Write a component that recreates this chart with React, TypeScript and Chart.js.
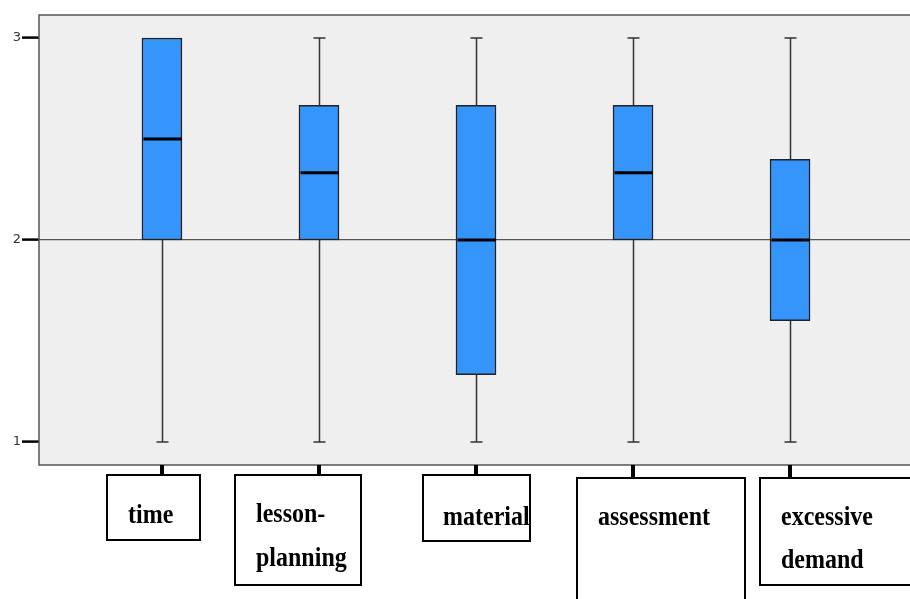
import React, { useEffect, useRef } from "react";
import { Chart, registerables } from "chart.js";

Chart.register(...registerables);

// ---- data ----
const categories: string[][] = [["time"], ["lesson-", "planning"], ["material"], ["assessment"], ["excessive", "demand"]];
const minValues = [1, 1, 1, 1, 1];
const q1Values = [2, 2, 1.333, 2, 1.6];
const medianValues = [2.5, 2.333, 2, 2.333, 2];
const q3Values = [3, 2.667, 2.667, 2.667, 2.4];
const maxValues = [3, 3, 3, 3, 3];
const yTickValues = [1, 2, 3];

// ---- label box layout (relative to category tick) ----
const labelBoxes = [
  { left: -55, width: 93, top: 475, height: 65, textX: -34, baselines: [523] },
  { left: -84, width: 126, top: 475, height: 110, textX: -63, baselines: [522, 566] },
  { left: -53, width: 107, top: 475, height: 66, textX: -33, baselines: [525] },
  { left: -56, width: 168, top: 478, height: 130, textX: -35, baselines: [525] },
  { left: -30, width: 160, top: 478, height: 107, textX: -9, baselines: [525, 568] },
];

const boxPlotPlugin = {
  id: "boxPlotExtras",
  beforeDraw(chart: any) {
    const { ctx, chartArea } = chart;
    ctx.save();
    ctx.fillStyle = "#efefef";
    ctx.fillRect(chartArea.left, chartArea.top, chartArea.right - chartArea.left, chartArea.bottom - chartArea.top);
    ctx.restore();
  },
  afterDatasetsDraw(chart: any) {
    const { ctx } = chart;
    const xs = chart.scales.x;
    const ys = chart.scales.y;
    ctx.save();
    categories.forEach((_, i) => {
      const cx = Math.round(xs.getPixelForValue(i + 1)) + 0.5;
      const yMax = ys.getPixelForValue(maxValues[i]);
      const yMin = ys.getPixelForValue(minValues[i]);
      const yQ1 = ys.getPixelForValue(q1Values[i]);
      const yQ3 = ys.getPixelForValue(q3Values[i]);
      const yMed = ys.getPixelForValue(medianValues[i]);
      ctx.strokeStyle = "#333";
      ctx.lineWidth = 1.5;
      ctx.beginPath();
      if (yMax < yQ3 - 0.5) {
        ctx.moveTo(cx, yMax);
        ctx.lineTo(cx, yQ3);
      }
      ctx.moveTo(cx, yQ1);
      ctx.lineTo(cx, yMin);
      ctx.stroke();
      ctx.beginPath();
      if (yMax < yQ3 - 0.5) {
        ctx.moveTo(cx - 6, yMax);
        ctx.lineTo(cx + 6, yMax);
      }
      ctx.moveTo(cx - 6, yMin);
      ctx.lineTo(cx + 6, yMin);
      ctx.stroke();
      // median
      ctx.strokeStyle = "#000";
      ctx.lineWidth = 3;
      ctx.beginPath();
      ctx.moveTo(cx - 19, yMed);
      ctx.lineTo(cx + 19, yMed);
      ctx.stroke();
    });
    ctx.restore();
  },
  afterDraw(chart: any) {
    const { ctx, chartArea } = chart;
    const xs = chart.scales.x;
    ctx.save();
    // plot border
    ctx.strokeStyle = "#555";
    ctx.lineWidth = 1.5;
    ctx.beginPath();
    ctx.moveTo(chartArea.right + 2, chartArea.top);
    ctx.lineTo(chartArea.left, chartArea.top);
    ctx.lineTo(chartArea.left, chartArea.bottom);
    ctx.lineTo(chartArea.right + 2, chartArea.bottom);
    ctx.stroke();
    // x ticks + label boxes
    categories.forEach((lines, i) => {
      const cx = Math.round(xs.getPixelForValue(i + 1));
      const b = labelBoxes[i];
      ctx.fillStyle = "#000";
      ctx.fillRect(cx - 2, chartArea.bottom, 4, b.top - chartArea.bottom);
      ctx.strokeStyle = "#000";
      ctx.lineWidth = 2;
      ctx.strokeRect(cx + b.left, b.top, b.width, b.height);
      ctx.font = "bold 24px 'Liberation Serif', 'Times New Roman', serif";
      ctx.textAlign = "left";
      ctx.textBaseline = "alphabetic";
      lines.forEach((t, j) => {
        ctx.save();
        ctx.translate(cx + b.textX, b.baselines[j]);
        ctx.scale(1, 1.1);
        ctx.fillText(t, 0, 0);
        ctx.restore();
      });
    });
    ctx.restore();
  },
};

export default function App() {
  const ref = useRef<HTMLCanvasElement>(null);
  useEffect(() => {
    if (!ref.current) return;
    const chart = new Chart(ref.current, {
      type: "bar",
      data: {
        datasets: [
          {
            data: categories.map((_, i) => ({ x: i + 1, y: [q1Values[i], q3Values[i]] })) as any,
            backgroundColor: "#3595fb",
            borderColor: "#222",
            borderWidth: 1.5,
            borderSkipped: false,
            barThickness: 40,
          },
        ],
      },
      options: {
        animation: false,
        responsive: false,
        devicePixelRatio: 1,
        layout: { padding: { top: 15, bottom: 134, left: 0, right: 0 } },
        plugins: { legend: { display: false }, tooltip: { enabled: false } },
        scales: {
          x: { type: "linear", min: 0.217, max: 5.764, offset: false, display: false },
          y: {
            min: 0.886,
            max: 3.114,
            afterBuildTicks: (s: any) => {
              s.ticks = yTickValues.map((v) => ({ value: v }));
            },
            afterFit: (s: any) => {
              s.width = 39;
            },
            border: { display: false },
            grid: {
              color: (c: any) => (c.tick && c.tick.value === 2 ? "#555" : "rgba(0,0,0,0)"),
              lineWidth: 1.2,
              tickLength: 17,
              tickColor: "#000",
              tickWidth: 2.5,
            },
            ticks: {
              padding: 1,
              color: "#333",
              font: { family: "'DejaVu Sans'", size: 13 },
            },
          },
        },
      },
      plugins: [boxPlotPlugin],
    });
    return () => chart.destroy();
  }, []);
  return (
    <div style={{ position: "fixed", left: 0, top: 0, width: 910, height: 599, background: "#fff" }}>
      <canvas ref={ref} width={910} height={599} style={{ width: 910, height: 599 }} />
    </div>
  );
}
